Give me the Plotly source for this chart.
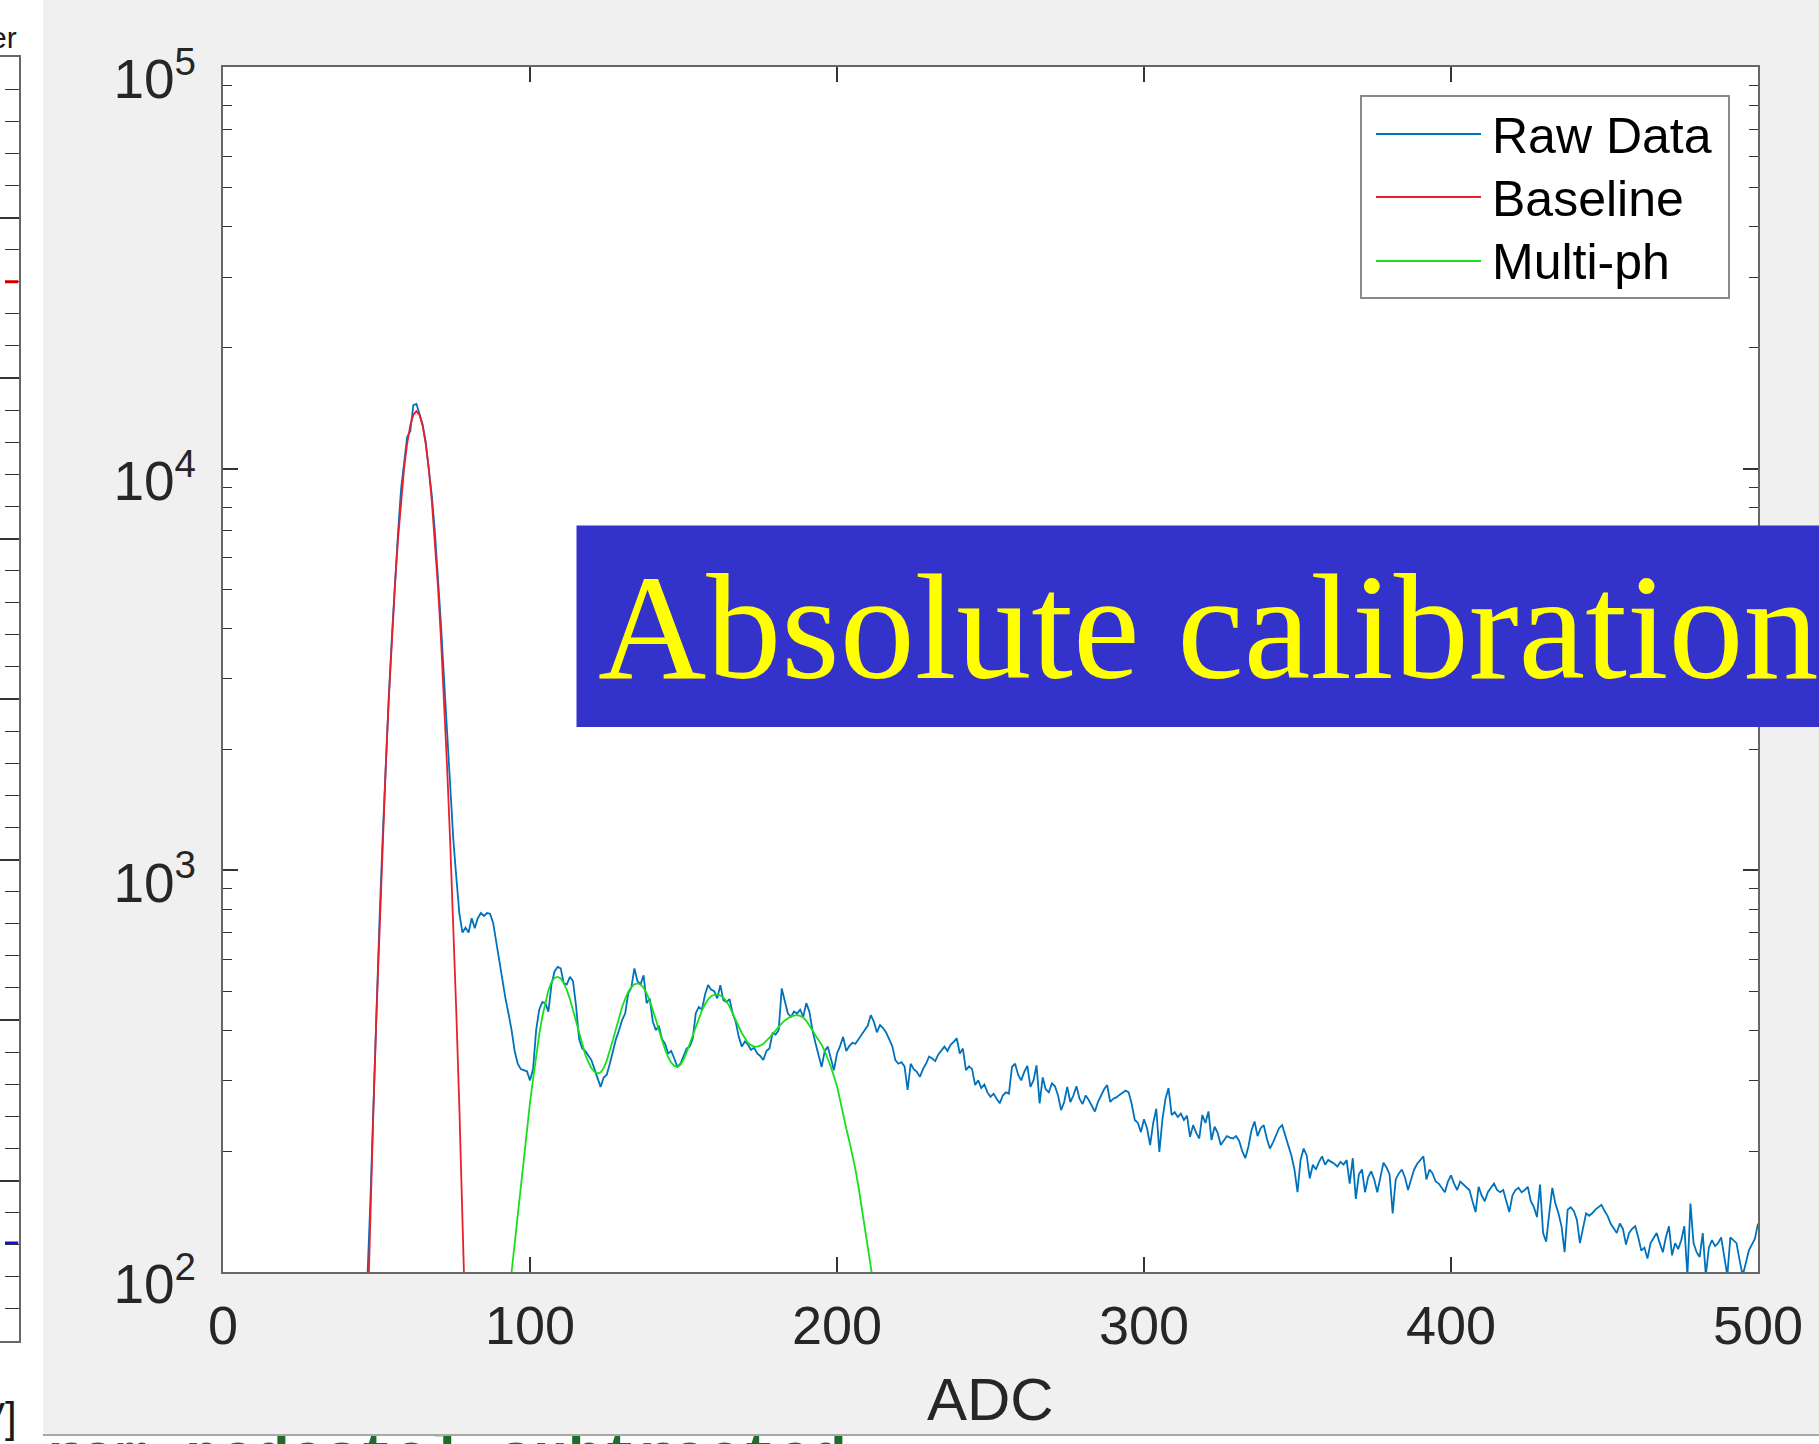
import plotly.graph_objects as go

# ---------------------------------------------------------------- data
# ADC spectrum (counts per ADC bin), bins 44..500
adc_raw = list(range(44, 501))
raw_counts = [
    20, 35, 60, 95, 150, 270,
    460, 760, 1200, 1850, 2700, 3800, 5200, 6900, 8900, 10400,
    12000, 12400, 14400, 14500, 13700, 12900, 11700, 10200, 8600, 7000,
    5500, 4100, 3000, 2200, 1600, 1200, 960, 780, 700, 720,
    700, 760, 718, 760, 783, 770, 783, 780, 740, 660,
    598, 540, 480, 440, 400, 355, 330, 320, 318, 316,
    300, 320, 400, 450, 470, 467, 445, 520, 560, 575,
    570, 523, 520, 543, 530, 460, 380, 360, 355, 345,
    337, 320, 305, 289, 305, 310, 330, 357, 380, 400,
    424, 440, 494, 510, 570, 530, 520, 548, 467, 480,
    420, 400, 410, 380, 370, 350, 355, 340, 324, 330,
    345, 360, 364, 380, 441, 457, 450, 490, 518, 505,
    500, 480, 518, 475, 470, 478, 441, 420, 385, 364,
    375, 368, 357, 362, 350, 345, 337, 355, 360, 393,
    390, 400, 508, 470, 440, 432, 445, 440, 450, 432,
    467, 445, 400, 371, 345, 324, 355, 364, 340, 318,
    350, 365, 385, 355, 365, 372, 370, 380, 392, 400,
    410, 436, 420, 395, 412, 405, 395, 380, 365, 337,
    330, 333, 325, 284, 330, 320, 315, 306, 320, 330,
    344, 340, 335, 348, 357, 364, 355, 368, 374, 382,
    350, 360, 318, 325, 320, 292, 300, 287, 293, 280,
    273, 278, 270, 263, 275, 280, 278, 324, 330, 310,
    300, 315, 326, 289, 300, 327, 263, 305, 285, 280,
    295, 290, 275, 253, 265, 289, 265, 275, 290, 270,
    262, 275, 268, 260, 251, 265, 275, 285, 292, 265,
    270, 272, 276, 280, 283, 280, 262, 239, 235, 223,
    240, 228, 207, 235, 255, 199, 240, 270, 287, 246,
    250, 243, 248, 239, 245, 217, 232, 222, 215, 246,
    235, 251, 213, 230, 222, 207, 212, 218, 216, 215,
    218, 212, 200, 192, 205, 225, 237, 218, 228, 232,
    215, 203, 210, 220, 228, 232, 218, 205, 195, 180,
    158, 190, 203, 195, 171, 185, 180, 188, 194, 185,
    190, 188, 186, 183, 188, 185, 190, 166, 192, 152,
    175, 180, 158, 172, 178, 170, 158, 172, 187, 182,
    175, 140, 170, 176, 180, 172, 160, 170, 180, 186,
    190, 194, 170, 180, 176, 168, 166, 162, 158, 168,
    174, 166, 160, 168, 165, 162, 160, 150, 141, 163,
    155, 150, 158, 162, 166, 160, 158, 160, 151, 141,
    155, 160, 162, 158, 160, 163, 150, 145, 137, 165,
    125, 119, 140, 162, 148, 140, 130, 112, 143, 145,
    142, 135, 118, 130, 140, 138, 140, 143, 145, 147,
    142, 138, 132, 128, 125, 132, 128, 117, 125, 128,
    130, 122, 113, 115, 108, 118, 122, 125, 118, 112,
    122, 130, 110, 118, 114, 120, 130, 98, 148, 118,
    112, 109, 125, 98, 115, 120, 116, 118, 122, 110,
    98, 122, 120, 118, 107, 98, 105, 113, 117, 121,
    132,
]

# pedestal (baseline) fit, bins 46..80
adc_base = list(range(46, 81))
baseline_fit = [
    38, 75, 141, 255, 442, 736, 1176, 1806, 2662, 3766,
    5113, 6668, 8346, 10028, 11568, 12810, 13619, 13900, 13619, 12810,
    11568, 10028, 8346, 6668, 5113, 3766, 2662, 1806, 1176, 736,
    442, 255, 141, 75, 38,
]

# multi-photoelectron fit, bins 93..212
adc_multi = list(range(93, 213))
multi_fit = [
    85, 100, 118, 140, 166, 195, 228,
    264, 302, 345, 390, 432, 470, 503, 527, 540, 543,
    538, 524, 504, 478, 449, 420, 392, 368, 348, 333,
    322, 315, 312, 314, 322, 336, 355, 378, 403, 430,
    456, 479, 498, 512, 520, 523, 520, 510, 494, 473,
    450, 425, 400, 378, 358, 343, 332, 326, 324, 328,
    338, 352, 370, 390, 410, 430, 448, 464, 477, 486,
    490, 491, 488, 482, 472, 458, 442, 425, 408, 393,
    381, 372, 367, 364, 364, 366, 370, 376, 383, 391,
    400, 408, 416, 423, 429, 433, 435, 436, 434, 430,
    422, 412, 400, 388, 378, 368, 355, 340, 324, 307,
    290, 268, 245, 228, 212, 196, 180, 163, 146, 130,
    115, 103, 92,
]

series_names = ["Raw Data", "Baseline", "Multi-ph"]
series_colors = ["#0072BD", "#E8202E", "#18E018"]

x_tick_vals = [0, 100, 200, 300, 400, 500]
y_tick_vals = [1e2, 1e3, 1e4, 1e5]
y_tick_text = ["10<sup>2</sup>", "10<sup>3</sup>", "10<sup>4</sup>", "10<sup>5</sup>"]
y_minor_vals = [m * 10 ** e for e in (2, 3, 4) for m in range(2, 10)]

# neighbouring panel (only its right edge is visible)
side_x = [0.27, 1.0]
side_red = [6.6, 6.6]
side_blue = [0.61, 0.61]

banner_text = "Absolute calibration"
footer_text = "ram pedestal subtracted"

# ---------------------------------------------------------------- layout helpers
W, H = 1819, 1444


def fx(p):
    return p / W


def fy(p):
    return 1 - p / H


AX_LINE = "#666666"
TICK = "#333333"
TXT = "#262626"
SANS = "Liberation Sans, Arial, Helvetica, sans-serif"

fig = go.Figure()

for xs, ys, name, color in zip(
    [adc_raw, adc_base, adc_multi],
    [raw_counts, baseline_fit, multi_fit],
    series_names,
    series_colors,
):
    fig.add_trace(go.Scatter(
        x=xs, y=ys, name=name, mode="lines",
        line=dict(color=color, width=1.8),
        xaxis="x", yaxis="y", showlegend=False,
    ))

# right edge of the neighbouring panel
fig.add_trace(go.Scatter(x=side_x, y=side_red, mode="lines",
                         line=dict(color="#E00000", width=3),
                         xaxis="x2", yaxis="y2", showlegend=False, hoverinfo="skip"))
fig.add_trace(go.Scatter(x=side_x, y=side_blue, mode="lines",
                         line=dict(color="#1010E0", width=3),
                         xaxis="x2", yaxis="y2", showlegend=False, hoverinfo="skip"))

# console line at the bottom, only its top edge shows
fig.add_trace(go.Scatter(x=[46], y=[-14], mode="text", text=[footer_text],
                         textposition="middle right", cliponaxis=True,
                         textfont=dict(family="Liberation Mono, Courier New, monospace",
                                       size=58, color="#1E6B2E", weight="bold"),
                         xaxis="x3", yaxis="y3", showlegend=False, hoverinfo="skip"))

fig.update_layout(
    width=W, height=H,
    margin=dict(l=0, r=0, t=0, b=0),
    paper_bgcolor="#F0F0F0",
    plot_bgcolor="#FFFFFF",
    showlegend=False,
    xaxis=dict(
        domain=[fx(223), fx(1758)], anchor="y",
        range=[0, 500], tickvals=x_tick_vals,
        ticks="inside", ticklen=15, tickwidth=1.5, tickcolor=TICK,
        showline=True, linecolor=AX_LINE, linewidth=2, mirror="ticks",
        showgrid=False, zeroline=False,
        tickfont=dict(family=SANS, size=54, color=TXT),
        ticklabelstandoff=5, automargin=False,
    ),
    yaxis=dict(
        domain=[fy(1272), fy(67)], anchor="x",
        type="log", range=[2, 5],
        tickvals=y_tick_vals, ticktext=y_tick_text,
        ticks="inside", ticklen=15, tickwidth=1.5, tickcolor=TICK,
        minor=dict(tickvals=y_minor_vals, ticks="inside", ticklen=9,
                   tickwidth=1.3, tickcolor=TICK, showgrid=False),
        showline=True, linecolor=AX_LINE, linewidth=2, mirror="allticks",
        showgrid=False, zeroline=False,
        tickfont=dict(family=SANS, size=55, color=TXT),
        ticklabelstandoff=14, ticklabelshift=12, automargin=False,
    ),
    xaxis2=dict(
        domain=[0, fx(18.5)], anchor="y2", range=[0, 1],
        showline=True, linecolor=AX_LINE, linewidth=2, mirror=True,
        ticks="", showticklabels=False, showgrid=False, zeroline=False,
        automargin=False,
    ),
    yaxis2=dict(
        domain=[fy(1341), fy(57)], anchor="x2", side="right", range=[0, 8],
        dtick=1, ticks="inside", ticklen=19, tickwidth=1.5, tickcolor=TICK,
        minor=dict(dtick=0.2, ticks="inside", ticklen=14, tickwidth=1.3,
                   tickcolor=TICK, showgrid=False),
        showline=True, linecolor=AX_LINE, linewidth=2,
        showticklabels=False, showgrid=False, zeroline=False, automargin=False,
    ),
    xaxis3=dict(
        domain=[fx(43), 1], anchor="y3", range=[43, W],
        visible=False, showgrid=False, zeroline=False, automargin=False,
    ),
    yaxis3=dict(
        domain=[0, fy(1436)], anchor="x3", range=[0, 8],
        visible=False, showgrid=False, zeroline=False, automargin=False,
    ),
)

shapes = [
    # white strip behind the neighbouring panel
    dict(type="rect", xref="paper", yref="paper", x0=0, x1=fx(43), y0=0, y1=1,
         fillcolor="#FFFFFF", line=dict(width=0), layer="below"),
    # console separator
    dict(type="line", xref="paper", yref="paper", x0=fx(43), x1=1,
         y0=fy(1435), y1=fy(1435), line=dict(color="#A8A8A8", width=2)),
    # banner
    dict(type="rect", xref="paper", yref="paper", x0=fx(576.5), x1=1.01,
         y0=fy(727), y1=fy(525.5), fillcolor="#3333CC", line=dict(width=0),
         layer="above"),
    # legend box
    dict(type="rect", xref="paper", yref="paper", x0=fx(1361), x1=fx(1729),
         y0=fy(298), y1=fy(96), fillcolor="#FFFFFF",
         line=dict(color="#8A8A8A", width=2), layer="above"),
]

legend_rows = [134, 197, 261]
legend_text_rows = [136, 199, 262]
annotations = []
for name, color, ly, ty in zip(series_names, series_colors, legend_rows, legend_text_rows):
    shapes.append(dict(type="line", xref="paper", yref="paper",
                       x0=fx(1376), x1=fx(1481), y0=fy(ly), y1=fy(ly),
                       line=dict(color=color, width=1.8), layer="above"))
    annotations.append(dict(text=name, xref="paper", yref="paper",
                            x=fx(1490), y=fy(ty), xanchor="left", yanchor="middle",
                            showarrow=False,
                            font=dict(family=SANS, size=50, color="#000000")))

annotations += [
    dict(text="ADC", xref="paper", yref="paper", x=fx(990), y=fy(1399),
         xanchor="center", yanchor="middle", showarrow=False,
         font=dict(family=SANS, size=60, color=TXT)),
    dict(text=banner_text, xref="paper", yref="paper", x=fx(596), y=fy(627),
         xanchor="left", yanchor="middle", showarrow=False,
         font=dict(family="Liberation Serif, Times New Roman, serif", size=150,
                   color="#FFFF00")),
    dict(text="er", xref="paper", yref="paper", x=fx(19), y=fy(37),
         xanchor="right", yanchor="middle", showarrow=False,
         font=dict(family=SANS, size=30, color="#1A1A1A")),
    dict(text="V]", xref="paper", yref="paper", x=fx(19), y=fy(1417),
         xanchor="right", yanchor="middle", showarrow=False,
         font=dict(family=SANS, size=42, color="#1A1A1A")),
]

fig.update_layout(shapes=shapes, annotations=annotations)

fig.write_html("out.html")
